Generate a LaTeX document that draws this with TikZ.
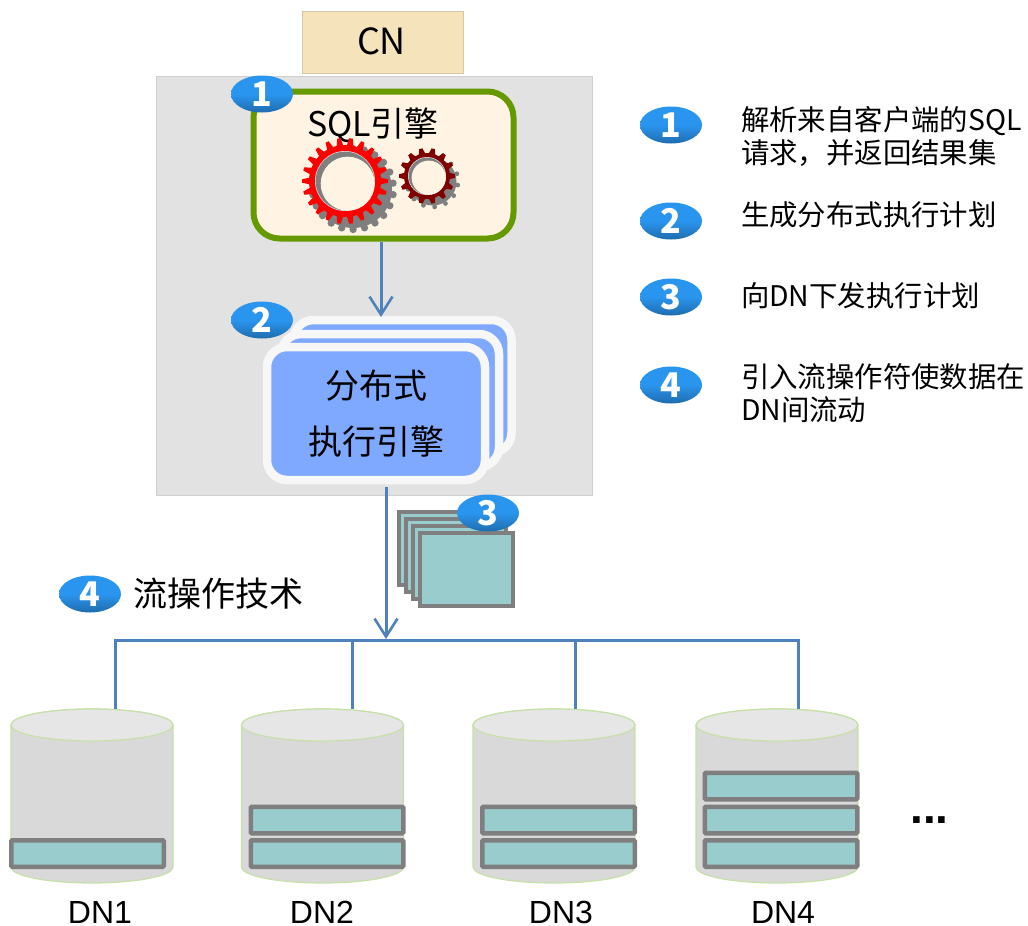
\documentclass[tikz,border=0pt]{standalone}
\usepackage{fontspec}
\setmainfont{Noto Sans CJK SC}
\newfontfamily\latinfont{Liberation Sans}
\usetikzlibrary{shapes.geometric,arrows.meta,calc}
\definecolor{panelgray}{HTML}{E2E2E2}
\definecolor{panelline}{HTML}{CFCFCF}
\definecolor{cnfill}{HTML}{F5E3BC}
\definecolor{cnline}{HTML}{D5C8A8}
\definecolor{sqlfill}{HTML}{FFF4E3}
\definecolor{sqlline}{HTML}{669900}
\definecolor{cardfill}{HTML}{7FA8FF}
\definecolor{cardline}{HTML}{F7F7F7}
\definecolor{wire}{HTML}{4F81BD}
\definecolor{tealfill}{HTML}{99CCCC}
\definecolor{barline}{HTML}{7F7F7F}
\definecolor{cylbody}{HTML}{D9D9D9}
\definecolor{cyltop}{HTML}{E6E6E6}
\definecolor{cylline}{HTML}{C6E0A8}
\definecolor{gearred}{HTML}{FF0000}
\definecolor{geardark}{HTML}{7F0000}
\definecolor{gearshadow}{HTML}{7F7F7F}
\definecolor{badgetop}{HTML}{2A95EE}
\definecolor{badgebot}{HTML}{1F6CAE}
\tikzset{
  x=1pt,y=-1pt,
  plainbox/.style={rectangle,inner sep=0pt,outer sep=0pt},
  badge/.style={ellipse,inner sep=0pt,outer sep=0pt,minimum width=62pt,minimum height=37pt,
    top color=badgetop,bottom color=badgebot,middle color=badgetop,text=white,
    font=\fontsize{34}{34}\selectfont\bfseries},
  card/.style={plainbox,rounded corners=20pt,draw=cardline,line width=8.5pt,fill=cardfill,
    minimum width=218pt,minimum height=133pt},
  packet/.style={plainbox,draw=barline,line width=4pt,fill=tealfill,
    minimum width=93pt,minimum height=73pt},
  bar/.style={plainbox,draw=barline,line width=4.5pt,fill=tealfill,
    minimum width=152.5pt,minimum height=26.5pt,rounded corners=1pt},
  wireline/.style={draw=wire,line width=3pt},
  wirearrow/.style={wireline,-{Straight Barb[length=18pt,width=23pt,line width=2.6pt]}},
  legend/.style={inner sep=0pt,outer sep=0pt,anchor=west,align=left,
    font=\fontsize{28.4}{33}\selectfont},
  cjklabel/.style={inner sep=0pt,outer sep=0pt,font=\fontsize{34}{34}\selectfont},
  dnlabel/.style={inner sep=0pt,outer sep=0pt,font=\fontsize{32}{32}\selectfont\latinfont},
}
% cx cy outer root hole teeth colour shadow-offset
\newcommand{\drawgear}[8]{%
  \begin{scope}[shift={(#1,#2)}]
    \fill[gearshadow] (#8,#8) circle[radius=#3-4];
    \foreach \a in {1,...,#6}{
      \fill[gearshadow] ({#8+(#3-2.5)*cos(\a*360/#6+8)},{#8+(#3-2.5)*sin(\a*360/#6+8)}) circle[radius=#3*0.085];
    }
    \fill[#7] (0,0) circle[radius=#4];
    \foreach \a in {1,...,#6}{
      \fill[#7] ({(#4-1)*cos(\a*360/#6-125/#6)},{(#4-1)*sin(\a*360/#6-125/#6)}) --
        ({#3*cos(\a*360/#6-50/#6)},{#3*sin(\a*360/#6-50/#6)}) --
        ({#3*cos(\a*360/#6+50/#6)},{#3*sin(\a*360/#6+50/#6)}) --
        ({(#4-1)*cos(\a*360/#6+125/#6)},{(#4-1)*sin(\a*360/#6+125/#6)}) -- cycle;
    }
    \fill[white!70!gearshadow] (0,0) circle[radius=#5];
    \fill[gearshadow] (0,0) circle[radius=#5-0.7];
    \fill[sqlfill] ({#5*0.09},{#5*0.09}) circle[radius=#5*0.9];
  \end{scope}
}
% cx: draws a cylinder with that centre
\newcommand{\drawcyl}[1]{%
  \path[fill=cylbody,draw=cylline,line width=1.2pt]
    (#1-81,725) -- (#1-81,867) arc[start angle=180,end angle=360,x radius=81,y radius=-16]
    -- (#1+81,725) arc[start angle=0,end angle=180,x radius=81,y radius=-16] -- cycle;
  \path[fill=cyltop,draw=cylline,line width=1.2pt] (#1,725) ellipse[x radius=81,y radius=16];
}
\begin{document}
\begin{tikzpicture}
\useasboundingbox (0,0) rectangle (1028,926);
\fill[white] (0,0) rectangle (1028,926);

% CN and panel
\node[plainbox,draw=cnline,line width=1pt,fill=cnfill,minimum width=161pt,minimum height=62pt] (cn) at (382.5,42) {};
\node[cjklabel,font=\fontsize{36}{36}\selectfont] (cntext) at (381.5,41) {CN};
\node[plainbox,draw=panelline,line width=1pt,fill=panelgray,minimum width=436pt,minimum height=419pt] (panel) at (374,285.5) {};

% SQL engine
\node[plainbox,draw=sqlline,line width=6pt,fill=sqlfill,rounded corners=26pt,minimum width=260pt,minimum height=147pt] (sql) at (383.5,165) {};
\node[cjklabel] (sqltext) at (373,125) {SQL引擎};
\drawgear{345}{181}{43}{36}{30}{22}{gearred}{8}
\drawgear{427}{176}{28}{23}{19}{14}{geardark}{5.5}

% Execution engine cards
\node[card] (card3) at (402.5,386.5) {};
\node[card] (card2) at (390,400.5) {};
\node[card] (card1) at (376,413.5) {};
\node[cjklabel] (cardtext1) at (376,386) {分布式};
\node[cjklabel] (cardtext2) at (376,442) {执行引擎};

% Connectors inside / out of panel
\coordinate (sqlout) at (381,242);
\coordinate (cardin) at (381,317);
\draw[wirearrow] (sqlout) -- (cardin);
\coordinate (cardout) at (386,487);
\coordinate (busin) at (386,639);
\draw[wirearrow] (cardout) -- (busin);

% Packets
\node[packet] (p1) at (445.5,548.5) {};
\node[packet] (p2) at (452.5,555.5) {};
\node[packet] (p3) at (459.5,562.5) {};
\node[packet] (p4) at (466.5,569.5) {};

% Cylinders
\drawcyl{92}
\drawcyl{322.5}
\drawcyl{554}
\drawcyl{777}

% Bus
\coordinate (j1) at (115,640);
\coordinate (j2) at (352,640);
\coordinate (j3) at (575,640);
\coordinate (j4) at (798,640);
\coordinate (dn1top) at (115,709);
\coordinate (dn2top) at (352,709);
\coordinate (dn3top) at (575,709);
\coordinate (dn4top) at (798,709);
\draw[wireline,line join=miter] (dn1top) -- (j1) -- (j4) -- (dn4top);
\draw[wireline] (j2) -- (dn2top);
\draw[wireline] (j3) -- (dn3top);

% Bars
\node[bar] (b1a) at (87.5,853.5) {};
\node[bar] (b2a) at (327,853.5) {};
\node[bar] (b2b) at (327,820) {};
\node[bar] (b3a) at (558.5,853.5) {};
\node[bar] (b3b) at (558.5,820) {};
\node[bar] (b4a) at (781,853.5) {};
\node[bar] (b4b) at (781,820) {};
\node[bar] (b4c) at (781,786) {};

% DN labels
\node[dnlabel] (dn1) at (100,912.5) {DN1};
\node[dnlabel] (dn2) at (322,912.5) {DN2};
\node[dnlabel] (dn3) at (561,912.5) {DN3};
\node[dnlabel] (dn4) at (783,912.5) {DN4};
\node[inner sep=0pt,anchor=base,font=\fontsize{46}{46}\selectfont\latinfont\bfseries] (dots) at (929.5,823) {...};

% Badges
\node[badge] (n1) at (262,94) {1};
\node[badge] (n2) at (262,320) {2};
\node[badge] (n3) at (488,513) {3};
\node[badge] (n4) at (90,594) {4};
\node[cjklabel,anchor=west] (streamtext) at (133,594) {流操作技术};

% Legend
\node[badge] (l1) at (671,125) {1};
\node[badge] (l2) at (671,221) {2};
\node[badge] (l3) at (671,297) {3};
\node[badge] (l4) at (671,385) {4};
\node[legend] (t1) at (741,136) {解析来自客户端的SQL\\请求，并返回结果集};
\node[legend] (t2) at (741,215) {生成分布式执行计划};
\node[legend] (t3) at (741,296) {向DN下发执行计划};
\node[legend] (t4) at (741,393) {引入流操作符使数据在\\DN间流动};
\end{tikzpicture}
\end{document}
